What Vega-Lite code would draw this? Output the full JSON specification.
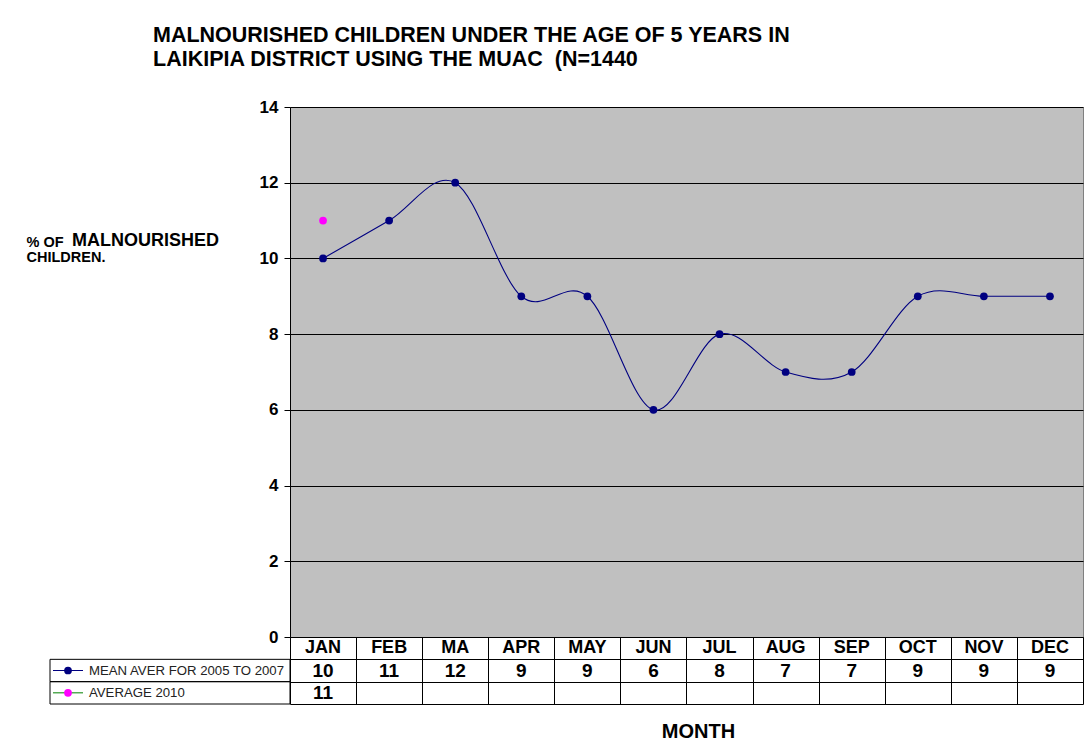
{
  "$schema": "https://vega.github.io/schema/vega-lite/v6.json",
  "padding": {"left": 25, "top": 24, "right": 2, "bottom": 0},
  "background": "white",
  "config": {"font": "Liberation Sans", "view": {"stroke": null}},
  "spacing": 0,
  "columns": 2,
  "bounds": "flush",
  "resolve": {"scale": {"x": "independent", "y": "independent"}},
  "datasets": {
    "values": [
      {"month": "JAN", "series": "MEAN AVER FOR 2005 TO 2007", "value": 10},
      {"month": "FEB", "series": "MEAN AVER FOR 2005 TO 2007", "value": 11},
      {"month": "MA", "series": "MEAN AVER FOR 2005 TO 2007", "value": 12},
      {"month": "APR", "series": "MEAN AVER FOR 2005 TO 2007", "value": 9},
      {"month": "MAY", "series": "MEAN AVER FOR 2005 TO 2007", "value": 9},
      {"month": "JUN", "series": "MEAN AVER FOR 2005 TO 2007", "value": 6},
      {"month": "JUL", "series": "MEAN AVER FOR 2005 TO 2007", "value": 8},
      {"month": "AUG", "series": "MEAN AVER FOR 2005 TO 2007", "value": 7},
      {"month": "SEP", "series": "MEAN AVER FOR 2005 TO 2007", "value": 7},
      {"month": "OCT", "series": "MEAN AVER FOR 2005 TO 2007", "value": 9},
      {"month": "NOV", "series": "MEAN AVER FOR 2005 TO 2007", "value": 9},
      {"month": "DEC", "series": "MEAN AVER FOR 2005 TO 2007", "value": 9},
      {"month": "JAN", "series": "AVERAGE 2010", "value": 11}
    ],
    "series": [
      {"series": "MEAN AVER FOR 2005 TO 2007"},
      {"series": "AVERAGE 2010"}
    ]
  },
  "concat": [
    {
      "width": 240,
      "height": 530,
      "title": {
        "text": "MALNOURISHED",
        "anchor": "start",
        "frame": "group",
        "dx": 22,
        "dy": 157,
        "offset": 0,
        "baseline": "alphabetic",
        "fontSize": 18,
        "fontWeight": "bold",
        "color": "#000000"
      },
      "data": {"values": []},
      "mark": "point"
    },
    {
      "width": 793,
      "height": 530,
      "title": {
        "text": ["MALNOURISHED CHILDREN UNDER THE AGE OF 5 YEARS IN", "LAIKIPIA DISTRICT USING THE MUAC \u00a0(N=1440"],
        "anchor": "start",
        "frame": "group",
        "dx": -137,
        "fontSize": 21.5,
        "fontWeight": "bold",
        "lineHeight": 24,
        "offset": 28,
        "color": "#000000"
      },
      "view": {"fill": "#C0C0C0", "stroke": "#808080"},
      "data": {"name": "values"},
      "encoding": {
        "x": {
          "field": "month", "type": "ordinal", "sort": null,
          "scale": {"type": "point", "padding": 0.5, "domain": ["JAN", "FEB", "MA", "APR", "MAY", "JUN", "JUL", "AUG", "SEP", "OCT", "NOV", "DEC"]},
          "axis": null
        },
        "y": {
          "field": "value", "type": "quantitative",
          "scale": {"domain": [0, 14], "nice": false},
          "axis": {
            "values": [0, 2, 4, 6, 8, 10, 12, 14],
            "grid": true, "gridColor": "#000000", "gridOpacity": 1, "gridWidth": 1,
            "domainColor": "#000000", "tickColor": "#000000", "tickSize": 6,
            "labelFontSize": 17, "labelFontWeight": "bold", "labelColor": "#000000", "labelPadding": 6,
            "title": ["% OF", " CHILDREN."],
            "titleAngle": 0, "titleAlign": "left", "titleBaseline": "top",
            "titleX": -264, "titleY": 128,
            "titleFontSize": 14.5, "titleFontWeight": "bold", "titleColor": "#000000", "titleLineHeight": 15.5
          }
        }
      },
      "layer": [
        {
          "transform": [{"filter": "datum.series == 'MEAN AVER FOR 2005 TO 2007'"}],
          "mark": {"type": "line", "interpolate": "cardinal", "color": "#000080", "strokeWidth": 1.1}
        },
        {
          "mark": {"type": "point", "filled": true, "size": 60, "opacity": 1},
          "encoding": {
            "color": {
              "field": "series", "type": "nominal",
              "scale": {"domain": ["MEAN AVER FOR 2005 TO 2007", "AVERAGE 2010"], "range": ["#000080", "#FF00FF"]},
              "legend": null
            }
          }
        }
      ]
    },
    {
      "width": 240,
      "height": 67,
      "data": {"name": "series"},
      "encoding": {
        "y": {
          "field": "series", "type": "nominal",
          "scale": {"domain": ["hdr", "MEAN AVER FOR 2005 TO 2007", "AVERAGE 2010"], "paddingInner": 0, "paddingOuter": 0},
          "axis": null
        }
      },
      "layer": [
        {
          "mark": {"type": "rect", "fillOpacity": 0, "stroke": "#000000", "strokeWidth": 1},
          "encoding": {
            "x": {"datum": 0, "type": "quantitative", "scale": {"domain": [0, 1]}, "axis": null},
            "x2": {"datum": 1}
          }
        },
        {
          "mark": {"type": "rule", "strokeWidth": 1},
          "encoding": {
            "x": {"datum": 0.0125, "type": "quantitative"},
            "x2": {"datum": 0.1375},
            "stroke": {
              "field": "series", "type": "nominal",
              "scale": {"domain": ["MEAN AVER FOR 2005 TO 2007", "AVERAGE 2010"], "range": ["#000080", "#008000"]},
              "legend": null
            }
          }
        },
        {
          "mark": {"type": "point", "filled": true, "size": 60, "opacity": 1},
          "encoding": {
            "x": {"datum": 0.075, "type": "quantitative"},
            "fill": {
              "field": "series", "type": "nominal",
              "scale": {"domain": ["MEAN AVER FOR 2005 TO 2007", "AVERAGE 2010"], "range": ["#000080", "#FF00FF"]},
              "legend": null
            }
          }
        },
        {
          "mark": {"type": "text", "align": "left", "fontSize": 13.2, "color": "#222222"},
          "encoding": {
            "x": {"datum": 0.1625, "type": "quantitative"},
            "text": {"field": "series"}
          }
        }
      ]
    },
    {
      "width": 793,
      "height": 67,
      "data": {"name": "values"},
      "encoding": {
        "x": {
          "field": "month", "type": "ordinal", "sort": null,
          "scale": {"type": "band", "paddingInner": 0, "paddingOuter": 0, "domain": ["JAN", "FEB", "MA", "APR", "MAY", "JUN", "JUL", "AUG", "SEP", "OCT", "NOV", "DEC"]},
          "axis": {
            "orient": "bottom", "grid": true, "tickBand": "extent",
            "gridColor": "#000000", "gridOpacity": 1, "gridWidth": 1,
            "labels": false, "ticks": false, "domain": false,
            "title": "MONTH", "titleFontSize": 20, "titleFontWeight": "bold", "titleColor": "#000000",
            "titlePadding": 17, "titleX": 408
          }
        },
        "y": {
          "field": "series", "type": "nominal",
          "scale": {"domain": ["hdr", "MEAN AVER FOR 2005 TO 2007", "AVERAGE 2010"], "paddingInner": 0, "paddingOuter": 0},
          "axis": {
            "grid": true, "tickBand": "extent",
            "gridColor": "#000000", "gridOpacity": 1, "gridWidth": 1,
            "labels": false, "ticks": false, "domain": false, "title": null
          }
        }
      },
      "layer": [
        {
          "mark": {"type": "text", "fontSize": 19, "fontWeight": "bold", "color": "#000000"},
          "encoding": {"text": {"field": "value"}}
        },
        {
          "transform": [{"filter": "datum.series == 'MEAN AVER FOR 2005 TO 2007'"}],
          "mark": {"type": "text", "fontSize": 18, "fontWeight": "bold", "color": "#000000"},
          "encoding": {
            "y": {"datum": "hdr"},
            "text": {"field": "month"}
          }
        }
      ]
    }
  ]
}
